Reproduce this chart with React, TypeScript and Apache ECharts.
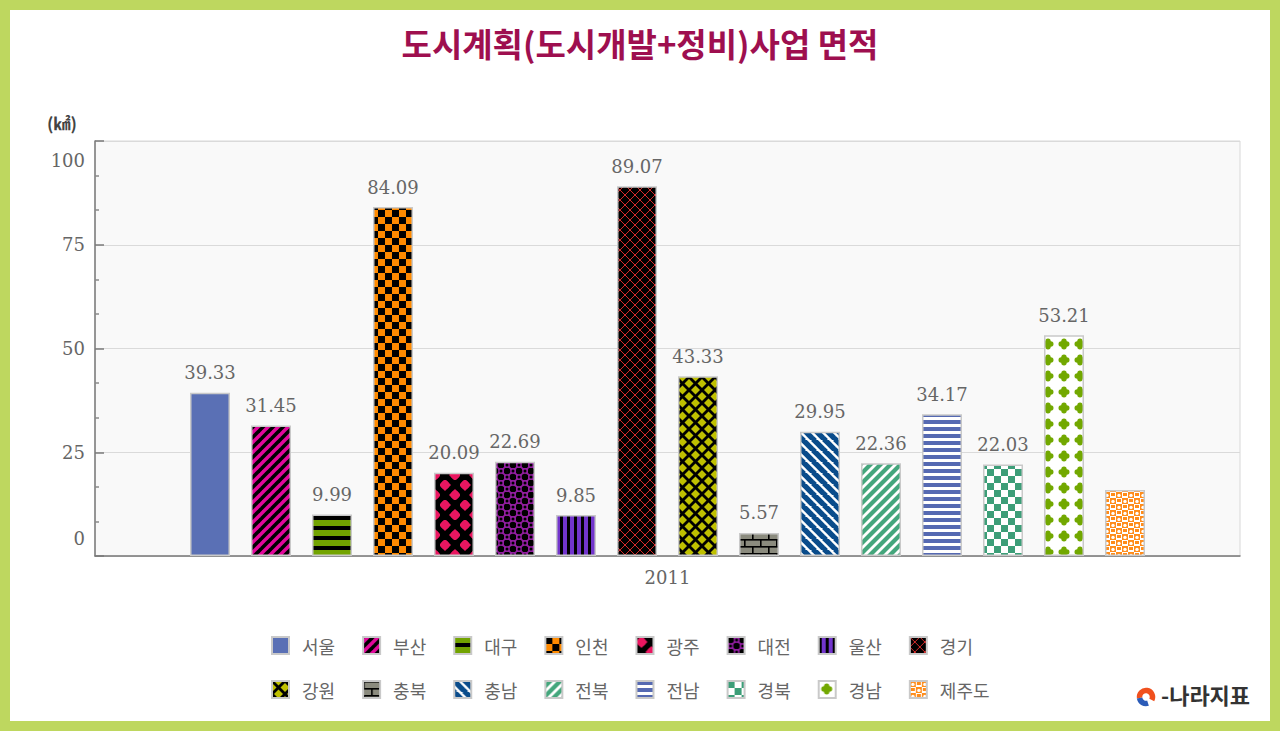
import React, { useEffect, useRef } from "react";
import * as echarts from "echarts";

const categories = ["2011"];
const regions = ["서울", "부산", "대구", "인천", "광주", "대전", "울산", "경기", "강원", "충북", "충남", "전북", "전남", "경북", "경남", "제주도"];
const values = [39.33, 31.45, 9.99, 84.09, 20.09, 22.69, 9.85, 89.07, 43.33, 5.57, 29.95, 22.36, 34.17, 22.03, 53.21, 15.9];
const showLabel = [true, true, true, true, true, true, true, true, true, true, true, true, true, true, true, false];
const yTicks = [0, 25, 50, 75, 100];
const title = "도시계획(도시개발+정비)사업 면적";
const unitText = "(㎢)";

type Ctx = CanvasRenderingContext2D;
function tile(w: number, h: number, draw: (c: Ctx, w: number, h: number) => void) {
  const cv = document.createElement("canvas");
  cv.width = w;
  cv.height = h;
  const ctx = cv.getContext("2d")!;
  draw(ctx, w, h);
  return cv;
}
function diag(c: Ctx, s: number, color: string, lw: number, dir: "/" | "\\") {
  c.strokeStyle = color;
  c.lineWidth = lw;
  for (const k of [-s, 0, s]) {
    c.beginPath();
    if (dir === "/") {
      c.moveTo(k - 1, s + 1);
      c.lineTo(k + s + 1, -1);
    } else {
      c.moveTo(k - 1, -1);
      c.lineTo(k + s + 1, s + 1);
    }
    c.stroke();
  }
}
function circle(c: Ctx, x: number, y: number, r: number, color: string) {
  c.fillStyle = color;
  c.beginPath();
  c.arc(x, y, r, 0, Math.PI * 2);
  c.fill();
}

function makeFills(): any[] {
  const pat = (cv: HTMLCanvasElement) => ({ image: cv, repeat: "repeat" });
  return [
    "#5a70b5",
    pat(tile(10, 10, (c, w, h) => { c.fillStyle = "#e2089c"; c.fillRect(0, 0, w, h); diag(c, 10, "#000", 3.6, "/"); })),
    pat(tile(10, 10, (c, w, h) => { c.fillStyle = "#72a300"; c.fillRect(0, 0, w, h); c.fillStyle = "#000"; c.fillRect(0, 6, 10, 4); })),
    pat(tile(14, 14, (c, w, h) => { c.fillStyle = "#ff8a00"; c.fillRect(0, 0, w, h); c.fillStyle = "#000"; c.fillRect(0, 0, 7, 7); c.fillRect(7, 7, 7, 7); })),
    pat(tile(20, 20, (c, w, h) => {
      c.fillStyle = "#000"; c.fillRect(0, 0, w, h);
      for (const [x, y] of [[5, 5], [15, 15]]) {
        circle(c, x, y, 4.4, "#ea1660");
        c.beginPath(); c.moveTo(x, y - 6); c.lineTo(x + 6, y); c.lineTo(x, y + 6); c.lineTo(x - 6, y); c.closePath(); c.fill();
      }
    })),
    pat(tile(12, 12, (c, w, h) => {
      c.fillStyle = "#921ea0"; c.fillRect(0, 0, w, h);
      circle(c, 3, 3, 3.3, "#000"); circle(c, 9, 9, 3.3, "#000");
      circle(c, 9, 3, 1.5, "#000"); circle(c, 3, 9, 1.5, "#000");
    })),
    pat(tile(7, 7, (c, w, h) => { c.fillStyle = "#7235cc"; c.fillRect(0, 0, w, h); c.fillStyle = "#000"; c.fillRect(0, 0, 3, 7); })),
    pat(tile(10, 10, (c, w, h) => { c.fillStyle = "#000"; c.fillRect(0, 0, w, h); diag(c, 10, "#d42a2a", 1, "/"); diag(c, 10, "#d42a2a", 1, "\\"); })),
    pat(tile(13, 13, (c, w, h) => { c.fillStyle = "#bfc000"; c.fillRect(0, 0, w, h); diag(c, 13, "#000", 2.8, "/"); diag(c, 13, "#000", 2.8, "\\"); })),
    pat(tile(16, 14, (c, w, h) => {
      c.fillStyle = "#8b8b7e"; c.fillRect(0, 0, w, h);
      c.fillStyle = "#000";
      c.fillRect(0, 0, 16, 1.6); c.fillRect(0, 7, 16, 1.6);
      c.fillRect(0, 0, 1.6, 7); c.fillRect(8, 7, 1.6, 7);
    })),
    pat(tile(11, 11, (c, w, h) => { c.fillStyle = "#fff"; c.fillRect(0, 0, w, h); diag(c, 11, "#0a4c8b", 5.4, "\\"); })),
    pat(tile(10, 10, (c, w, h) => { c.fillStyle = "#44a67c"; c.fillRect(0, 0, w, h); diag(c, 10, "#fff", 2.8, "/"); })),
    pat(tile(7, 7, (c, w, h) => { c.fillStyle = "#fff"; c.fillRect(0, 0, w, h); c.fillStyle = "#5569b2"; c.fillRect(0, 0, 7, 4); })),
    pat(tile(14, 14, (c, w, h) => { c.fillStyle = "#fff"; c.fillRect(0, 0, w, h); c.fillStyle = "#3c9e78"; c.fillRect(0, 0, 7, 7); c.fillRect(7, 7, 7, 7); })),
    pat(tile(16, 16, (c, w, h) => {
      c.fillStyle = "#fff"; c.fillRect(0, 0, w, h);
      const g = "#72a800";
      circle(c, 8, 8, 3.2, g);
      circle(c, 5.2, 8, 2.7, g); circle(c, 10.8, 8, 2.7, g);
      circle(c, 8, 5.2, 2.7, g); circle(c, 8, 10.8, 2.7, g);
    })),
    pat(tile(12, 12, (c, w, h) => {
      c.fillStyle = "#fff"; c.fillRect(0, 0, w, h);
      c.fillStyle = "#ff8c1a";
      c.fillRect(0, 0, 6, 6); c.fillRect(6, 6, 6, 6);
      c.fillRect(7, 1, 4, 3); c.fillRect(1, 7, 4, 3);
      circle(c, 3, 3.4, 1.7, "#fff"); circle(c, 9, 9.4, 1.7, "#fff");
    })),
  ];
}

const serif = "'DejaVu Serif', serif";
const kr = "'Noto Sans CJK KR', sans-serif";

export default function App() {
  const ref = useRef<HTMLDivElement>(null);
  useEffect(() => {
    const chart = echarts.init(ref.current!, null, { renderer: "svg" });
    const fills = makeFills();
    const series = regions.map((name, i) => ({
      name,
      type: "bar",
      data: [values[i]],
      barWidth: 40,
      barGap: "52.5%",
      itemStyle: { color: fills[i], borderColor: "#c9c9c9", borderWidth: 1.5 },
      label: {
        show: showLabel[i],
        position: "top",
        distance: 11,
        color: "#666",
        fontFamily: serif,
        fontSize: 18,
        formatter: (p: any) => Number(p.value).toFixed(2),
      },
    }));
    const legendCommon = {
      icon: "rect",
      itemWidth: 17,
      itemHeight: 17,
      itemGap: 27,
      left: 266,
      orient: "horizontal",
      selectedMode: false,
      textStyle: { fontFamily: kr, fontSize: 18, color: "#666", padding: [0, 0, 0, 8] },
    };
    chart.setOption({
      animation: false,
      backgroundColor: "#ffffff",
      title: {
        text: title,
        left: "center",
        top: 21,
        textStyle: { fontFamily: kr, fontSize: 33, fontWeight: "bold", color: "#9e0f4f" },
      },
      legend: [
        { ...legendCommon, top: 631, data: regions.slice(0, 8) },
        { ...legendCommon, top: 675, data: regions.slice(8) },
      ],
      grid: {
        left: 95,
        right: 40,
        top: 141,
        bottom: 175,
        show: true,
        backgroundColor: "#f9f9f9",
        borderColor: "#d8d8d8",
        borderWidth: 1,
      },
      xAxis: {
        type: "category",
        data: categories,
        axisLine: { lineStyle: { color: "#7a7a7a", width: 1.5 } },
        axisTick: { show: false },
        axisLabel: { color: "#666", fontFamily: serif, fontSize: 18, margin: 12 },
      },
      yAxis: {
        type: "value",
        min: yTicks[0],
        max: yTicks[yTicks.length - 1],
        interval: 25,
        axisLine: { show: true, lineStyle: { color: "#7a7a7a", width: 1.5 } },
        axisTick: { show: true, inside: true, length: 9, lineStyle: { color: "#7a7a7a", width: 1.5 } },
        minorTick: { show: true, splitNumber: 3, length: 4, lineStyle: { color: "#8a8a8a", width: 1.5 } },
        splitLine: { show: true, lineStyle: { color: "#dadada", width: 1 } },
        axisLabel: {
          margin: 10,
          color: "#666",
          fontFamily: serif,
          fontSize: 18,
          formatter: (v: number) => (v === 0 ? "{lo|0}" : v === 100 ? "{hi|100}" : String(v)),
          rich: {
            lo: { padding: [0, 0, 36, 0], color: "#666", fontFamily: serif, fontSize: 18 },
            hi: { padding: [38, 0, 0, 0], color: "#666", fontFamily: serif, fontSize: 18 },
          },
        },
      },
      series,
      graphic: [
        {
          type: "rect",
          shape: { x: 5, y: 5, width: 1270, height: 721 },
          style: { fill: "none", stroke: "#bed75f", lineWidth: 10 },
          silent: true,
        },
        {
          type: "text",
          x: 47,
          y: 114,
          style: { text: unitText, fontFamily: kr, fontSize: 17, fontWeight: "bold", fill: "#444" },
        },
        {
          type: "arc",
          shape: { cx: 1146, cy: 697, r: 6.5, startAngle: Math.PI * 0.95, endAngle: Math.PI * 2.15 },
          style: { stroke: "#f0501e", lineWidth: 5.5, fill: "none" },
        },
        {
          type: "arc",
          shape: { cx: 1146, cy: 697, r: 6.5, startAngle: Math.PI * 0.4, endAngle: Math.PI * 0.95 },
          style: { stroke: "#2b5cb8", lineWidth: 5.5, fill: "none" },
        },
        {
          type: "text",
          x: 1161,
          y: 683,
          style: { text: "-나라지표", fontFamily: kr, fontSize: 22, fontWeight: "bold", fill: "#333" },
        },
      ],
    });
    return () => chart.dispose();
  }, []);
  return (
    <div
      ref={ref}
      style={{ position: "fixed", left: 0, top: 0, width: 1280, height: 731 }}
    />
  );
}
